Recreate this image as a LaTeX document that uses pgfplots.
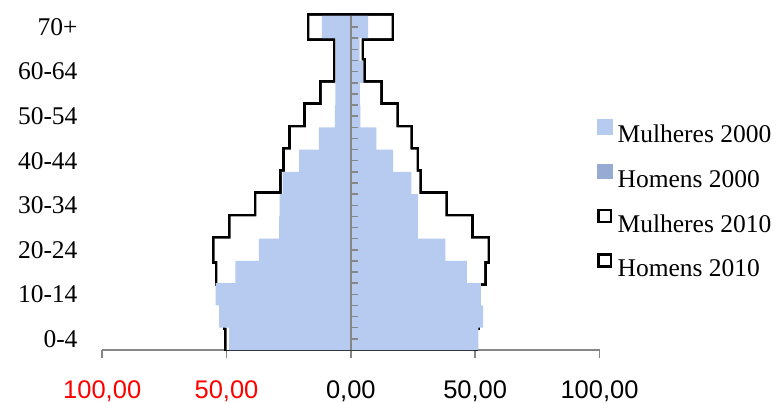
\documentclass[border=0pt]{standalone}
\usepackage{pgfplots}
\pgfplotsset{compat=1.18}
\usepackage{pgfplotstable}
\usepackage{fontspec}
\setmainfont{Liberation Serif}
\newfontfamily\arialfont{Liberation Sans}
\definecolor{barblue}{RGB}{183,203,240}
\definecolor{barblueD}{RGB}{150,170,212}
\definecolor{axgray}{RGB}{134,134,134}

\pgfplotstableread{
y h2000 m2000 h2010 m2010
0 -49.0 51.3 -50.0 50.0
1 -53.0 53.2 -50.5 51.0
2 -54.4 52.3 -50.5 51.0
3 -46.4 46.7 -53.7 53.6
4 -37.0 38.0 -54.8 55.0
5 -28.8 27.0 -48.4 48.3
6 -28.6 27.0 -38.0 38.0
7 -27.4 24.3 -27.7 27.6
8 -20.8 17.0 -26.4 26.5
9 -12.9 10.3 -24.0 23.9
10 -6.4 3.8 -18.0 18.3
11 -6.2 3.6 -11.7 11.8
12 -6.0 4.8 -6.2 5.0
13 -6.0 3.5 -6.2 4.3
14 -11.7 6.9 -16.7 16.4
}\pyr

\begin{document}
\begin{tikzpicture}
\begin{axis}[
  at={(0,0)}, anchor=south west,
  scale only axis, width=497.3bp, height=336.7bp,
  xmin=-100, xmax=100, ymin=-0.5, ymax=14.62,
  axis lines*=left,
  y axis line style={draw=none},
  x axis line style={axgray, line width=1.8bp},
  xtick={-100,-50,0,50,100},
  xticklabels={{\textcolor{red}{100,00}},{\textcolor{red}{50,00}},{0,00},{50,00},{100,00}},
  ytick={0,2,4,6,8,10,12,14},
  yticklabels={0-4,10-14,20-24,30-34,40-44,50-54,60-64,70+},
  tick align=outside,
  major tick length=8.3bp,
  xtick style={axgray, line width=1.8bp},
  ytick style={draw=none},
  xticklabel style={font=\arialfont\fontsize{25.5bp}{30bp}\selectfont, anchor=north, inner sep=0pt, yshift=-22bp},
  yticklabel style={font=\fontsize{25.5bp}{30bp}\selectfont, anchor=east, inner sep=0pt, xshift=-16.2bp},
  xbar, bar width=1, bar shift=0pt,
  legend style={at={(0.995,0.686)}, anchor=north west, draw=none, fill=none,
    font=\fontsize{25.5bp}{30bp}\selectfont, row sep=15bp, inner sep=0pt,
    nodes={inner sep=1bp, text height=18bp, text depth=5bp},
    /tikz/every odd column/.style={column sep=4bp}},
  legend cell align=left,
]
\addlegendimage{legend image code/.code={\fill[barblue] (0bp,2.5bp) rectangle (15bp,17bp);}}
\addlegendentry{Mulheres 2000}
\addlegendimage{legend image code/.code={\fill[barblueD] (0bp,2.5bp) rectangle (15bp,17bp);}}
\addlegendentry{Homens 2000}
\addlegendimage{legend image code/.code={\draw[black, fill=white, line width=2.5bp] (1.25bp,3.75bp) rectangle (13.75bp,15.75bp);}}
\addlegendentry{Mulheres 2010}
\addlegendimage{legend image code/.code={\draw[black, fill=white, line width=2.5bp] (1.25bp,3.75bp) rectangle (13.75bp,15.75bp);}}
\addlegendentry{Homens 2010}

\addplot[forget plot, fill=white, draw=black, line width=5.5bp] table[x=h2010, y=y]{\pyr};
\addplot[forget plot, fill=white, draw=black, line width=5.5bp] table[x=m2010, y=y]{\pyr};
\addplot[forget plot, fill=white, draw=none] table[x=h2010, y=y]{\pyr};
\addplot[forget plot, fill=white, draw=none] table[x=m2010, y=y]{\pyr};
\addplot[forget plot, fill=barblue, draw=none] table[x=h2000, y=y]{\pyr};
\addplot[forget plot, fill=barblue, draw=none] table[x=m2000, y=y]{\pyr};

\draw[axgray, line width=1.8bp] (axis cs:0,-0.5) -- (axis cs:0,14.5);
\pgfplotsinvokeforeach{0,0.5,1,1.5,2,2.5,3,3.5,4,4.5,5,5.5,6,6.5,7,7.5,8,8.5,9,9.5,10,10.5,11,11.5,12,12.5,13,13.5,14}{
  \draw[axgray, line width=1.5bp] (axis cs:0,#1) -- ([xshift=7.5bp]axis cs:0,#1);
}
\end{axis}
\pgfresetboundingbox
\useasboundingbox (-102.2bp,-53bp) rectangle (678.8bp,350bp);
\end{tikzpicture}
\end{document}
